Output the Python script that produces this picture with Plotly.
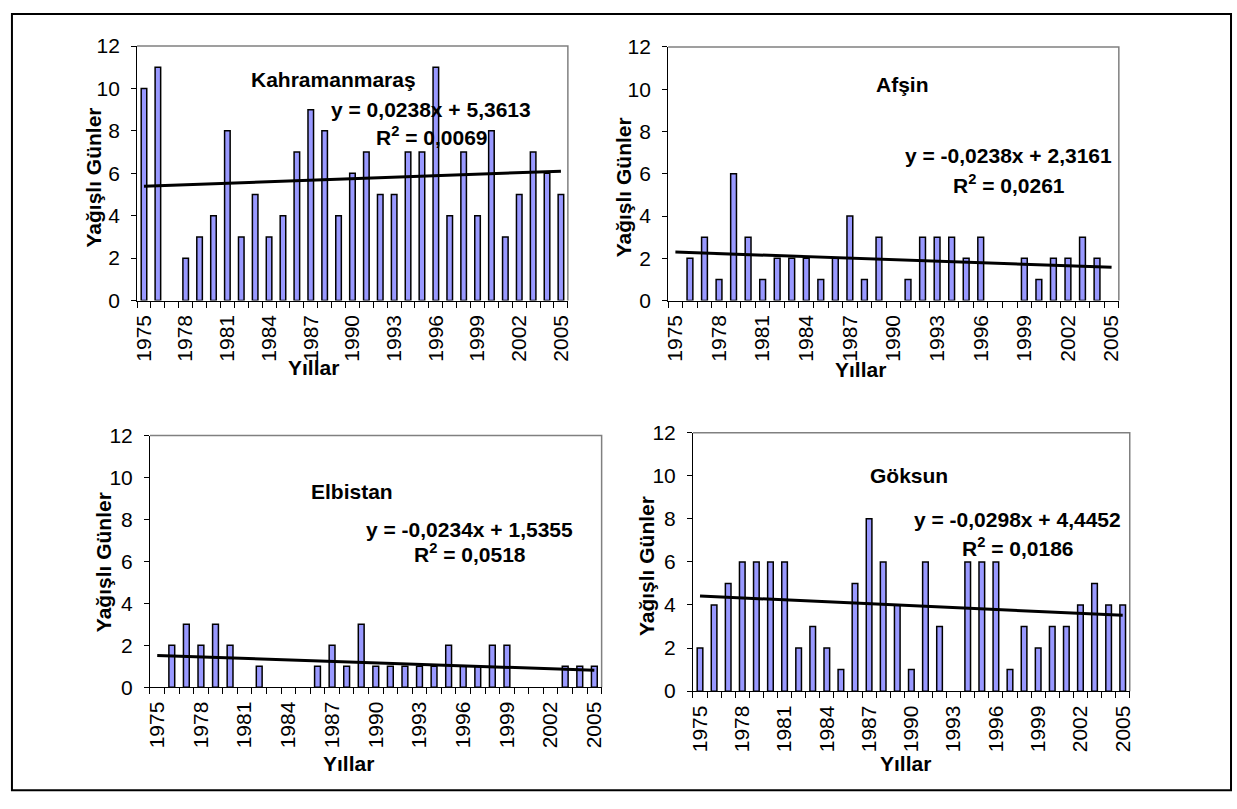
import numpy as np
import plotly.graph_objects as go

W, H = 1237, 809

years = list(range(1975, 2006))

kahramanmaras = [10, 11, 0, 2, 3, 4, 8, 3, 5, 3, 4, 7, 9, 8, 4, 6, 7, 5, 5, 7, 7, 11, 4, 7, 4, 8, 3, 5, 7, 6, 5]
afsin = [0, 2, 3, 1, 6, 3, 1, 2, 2, 2, 1, 2, 4, 1, 3, 0, 1, 3, 3, 3, 2, 3, 0, 0, 2, 1, 2, 2, 3, 2, 0]
elbistan = [0, 2, 3, 2, 3, 2, 0, 1, 0, 0, 0, 1, 2, 1, 3, 1, 1, 1, 1, 1, 2, 1, 1, 2, 2, 0, 0, 0, 1, 1, 1]
goksun = [2, 4, 5, 6, 6, 6, 6, 2, 3, 2, 1, 5, 8, 6, 4, 1, 6, 3, 0, 6, 6, 6, 1, 3, 2, 3, 3, 4, 5, 4, 4]

stations = ["Kahramanmaraş", "Afşin", "Elbistan", "Göksun"]
equations = ["y = 0,0238x + 5,3613", "y = -0,0238x + 2,3161", "y = -0,0234x + 1,5355", "y = -0,0298x + 4,4452"]
r2_values = ["0,0069", "0,0261", "0,0518", "0,0186"]
series = [kahramanmaras, afsin, elbistan, goksun]

tick_years = years[::3]
y_title = "Yağışlı Günler"
x_title = "Yıllar"

# plot-area pixel boxes (x0, x1, y0, y1)
boxes = [(133, 567, 35, 297), (668, 1122, 36, 297), (146, 601, 436, 695), (693, 1133, 433, 699)]
title_pos = [(331, 69), (904, 75), (350, 494), (911, 477)]
eq_pos = [(429, 100), (1011, 148), (468, 533), (1020, 522)]
r2_pos = [(430, 128), (1011, 177), (468, 557), (1020, 551)]
ytitle_pos = [(89, 170), (623, 180), (100, 566), (646, 570)]
xtitle_pos = [(311, 366), (862, 368), (346, 774), (907, 774)]

FONT = "Liberation Sans, Arial, sans-serif"
TXT = 21

def px(x):
    return x / W

def py(y):
    return 1 - y / H

fig = go.Figure()
layout = dict(
    width=W, height=H, margin=dict(l=0, r=0, t=0, b=0),
    paper_bgcolor="white", plot_bgcolor="white", showlegend=False,
    font=dict(family=FONT, color="black", size=TXT),
)
annotations = []
shapes = []

for i, vals in enumerate(series):
    n = i + 1
    xa = "x" if n == 1 else f"x{n}"
    ya = "y" if n == 1 else f"y{n}"
    fig.add_trace(go.Bar(
        x=years, y=[v if v else None for v in vals], width=0.4, xaxis=xa, yaxis=ya,
        marker=dict(color="#9999FF", line=dict(color="black", width=1.5)),
    ))
    idx = np.arange(1, len(years) + 1)
    slope, inter = np.polyfit(idx, np.array(vals, dtype=float), 1)
    fig.add_trace(go.Scatter(
        x=years, y=slope * idx + inter, mode="lines", xaxis=xa, yaxis=ya,
        line=dict(color="black", width=3),
    ))
    x0, x1, y0, y1 = boxes[i]
    xkey = "xaxis" if n == 1 else f"xaxis{n}"
    ykey = "yaxis" if n == 1 else f"yaxis{n}"
    layout[xkey] = dict(
        domain=[px(x0), px(x1)], anchor=ya, range=[1974.5, 2005.5],
        tickmode="array", tickvals=tick_years, ticktext=[str(t) for t in tick_years],
        tickangle=-90, ticks="", showline=True, linecolor="black", linewidth=1,
        showgrid=False, zeroline=False, tickfont=dict(size=TXT, color="black"),
        ticklabelstandoff=5,
        minor=dict(ticks="outside", tick0=1974.5, dtick=1, ticklen=6,
                   tickcolor="black", tickwidth=1, showgrid=False),
    )
    layout[ykey] = dict(
        domain=[py(y1), py(y0)], anchor=xa, range=[0, 12], dtick=2, tick0=0,
        ticks="outside", ticklen=5, tickcolor="black", showline=True,
        linecolor="black", linewidth=1, showgrid=False, zeroline=False,
        tickfont=dict(size=TXT, color="black"), ticklabelstandoff=7,
    )
    # gray plot-area border (top and right)
    shapes.append(dict(type="path", xref=f"{xa} domain", yref=f"{ya} domain",
                       path="M 0,1 L 1,1 L 1,0", line=dict(color="#808080", width=1.5),
                       layer="below"))
    tx, ty = title_pos[i]
    annotations.append(dict(x=px(tx), y=py(ty), xref="paper", yref="paper",
                            text=f"<b>{stations[i]}</b>", showarrow=False,
                            font=dict(size=TXT), xanchor="center", yanchor="middle"))
    ex, ey = eq_pos[i]
    annotations.append(dict(x=px(ex), y=py(ey), xref="paper", yref="paper",
                            text=f"<b>{equations[i]}</b>", showarrow=False,
                            font=dict(size=TXT), xanchor="center", yanchor="middle"))
    rx, ry = r2_pos[i]
    annotations.append(dict(x=px(rx), y=py(ry), xref="paper", yref="paper",
                            text=f"<b>R<sup>2</sup> = {r2_values[i]}</b>", showarrow=False,
                            font=dict(size=TXT), xanchor="center", yanchor="middle"))
    ytx, yty = ytitle_pos[i]
    annotations.append(dict(x=px(ytx), y=py(yty), xref="paper", yref="paper",
                            text=f"<b>{y_title}</b>", showarrow=False, textangle=-90,
                            font=dict(size=TXT), xanchor="center", yanchor="middle"))
    xtx, xty = xtitle_pos[i]
    annotations.append(dict(x=px(xtx), y=py(xty), xref="paper", yref="paper",
                            text=f"<b>{x_title}</b>", showarrow=False,
                            font=dict(size=TXT), xanchor="center", yanchor="middle"))

shapes.append(dict(type="rect", xref="paper", yref="paper",
                   x0=px(7), x1=px(1235), y0=py(801), y1=py(2),
                   line=dict(color="black", width=2)))

layout["annotations"] = annotations
layout["shapes"] = shapes
fig.update_layout(**layout)
fig.write_html("out.html", config={"displayModeBar": False})
